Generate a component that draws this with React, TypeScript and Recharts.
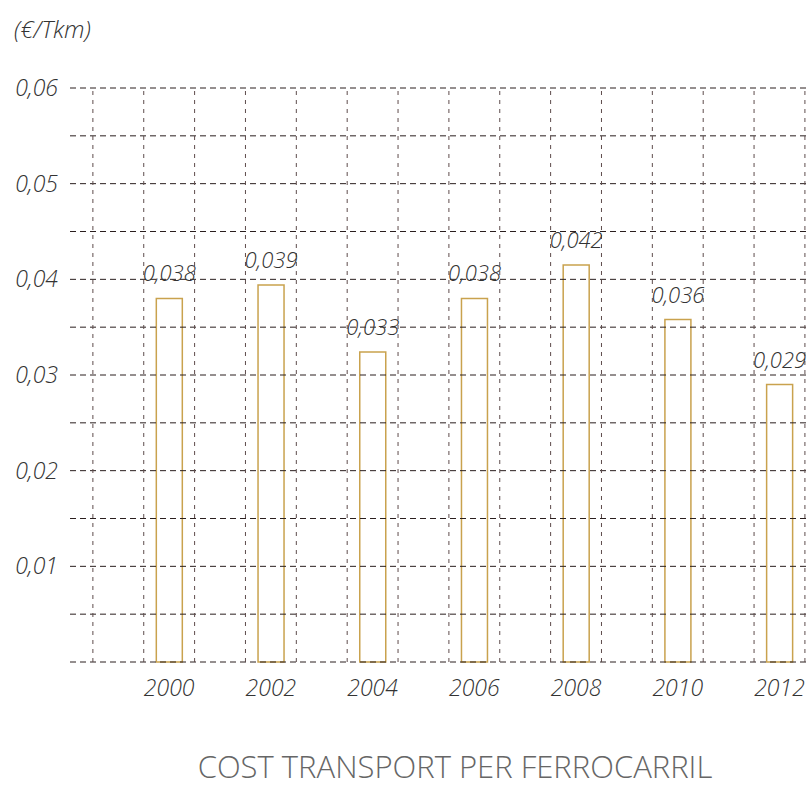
import React from "react";
import { BarChart, Bar, XAxis, YAxis, ReferenceLine, LabelList } from "recharts";

const years = [2000, 2002, 2004, 2006, 2008, 2010, 2012];
const costs = [0.038, 0.0394, 0.0324, 0.038, 0.0415, 0.0358, 0.029];
const valueLabels = ["0,038", "0,039", "0,033", "0,038", "0,042", "0,036", "0,029"];
const yTicks = [0.01, 0.02, 0.03, 0.04, 0.05, 0.06];
const hGrid = [0, 0.005, 0.01, 0.015, 0.02, 0.025, 0.03, 0.035, 0.04, 0.045, 0.05, 0.055, 0.06];
const vGrid = [1998.5, 1999.5, 2000.5, 2001.5, 2002.5, 2003.5, 2004.5, 2005.5, 2006.5, 2007.5, 2008.5, 2009.5, 2010.5, 2011.5, 2012.5];

const data = years.map((y, i) => ({ year: y, cost: costs[i], label: valueLabels[i] }));

const FONT = "'Open Sans', 'Noto Sans', sans-serif";

export default function App() {
  return (
    <div style={{ position: "absolute", left: 0, top: 0, width: 810, height: 795, background: "#fff", fontFamily: FONT }}>
      <div style={{ position: "absolute", left: 14, top: 12, fontSize: 24, fontStyle: "italic", fontWeight: 300, color: "#333" }}>(€/Tkm)</div>
      <BarChart width={810} height={795} data={data} margin={{ top: 88, right: 0, bottom: 103, left: 0 }}>
        {hGrid.map((v) => (
          <ReferenceLine key={"h" + v} y={v} stroke="#2a1e1e" strokeDasharray="6 4" strokeWidth={1} ifOverflow="extendDomain" />
        ))}
        {vGrid.map((v) => (
          <ReferenceLine key={"v" + v} x={v} stroke="#5e4c4c" strokeDasharray="4 5" strokeWidth={1} />
        ))}
        <XAxis
          dataKey="year"
          type="number"
          height={30}
          domain={[1998.05, 2012.6]}
          allowDataOverflow
          ticks={years}
          axisLine={false}
          tickLine={false}
          tickMargin={12}
          tick={{ fontSize: 23, fontStyle: "italic", fontWeight: 300, fill: "#333", fontFamily: FONT }}
        />
        <YAxis
          width={70}
          domain={[0, 0.06]}
          ticks={yTicks}
          axisLine={false}
          tickLine={false}
          tickMargin={6}
          tickFormatter={(v: number) => v.toFixed(2).replace(".", ",")}
          tick={{ fontSize: 23, fontStyle: "italic", fontWeight: 300, fill: "#333", fontFamily: FONT }}
        />
        <Bar dataKey="cost" barSize={26} fill="none" stroke="#c9a24e" strokeWidth={1.5} isAnimationActive={false}>
          <LabelList dataKey="label" position="top" offset={17} style={{ fontSize: 22, fontStyle: "italic", fontWeight: 300, fill: "#333", fontFamily: FONT }} />
        </Bar>
      </BarChart>
      <div style={{ position: "absolute", left: 0, width: 910, top: 745, textAlign: "center", fontSize: 31, fontWeight: 300, color: "#666", whiteSpace: "nowrap" }}>
        COST TRANSPORT PER FERROCARRIL
      </div>
    </div>
  );
}
